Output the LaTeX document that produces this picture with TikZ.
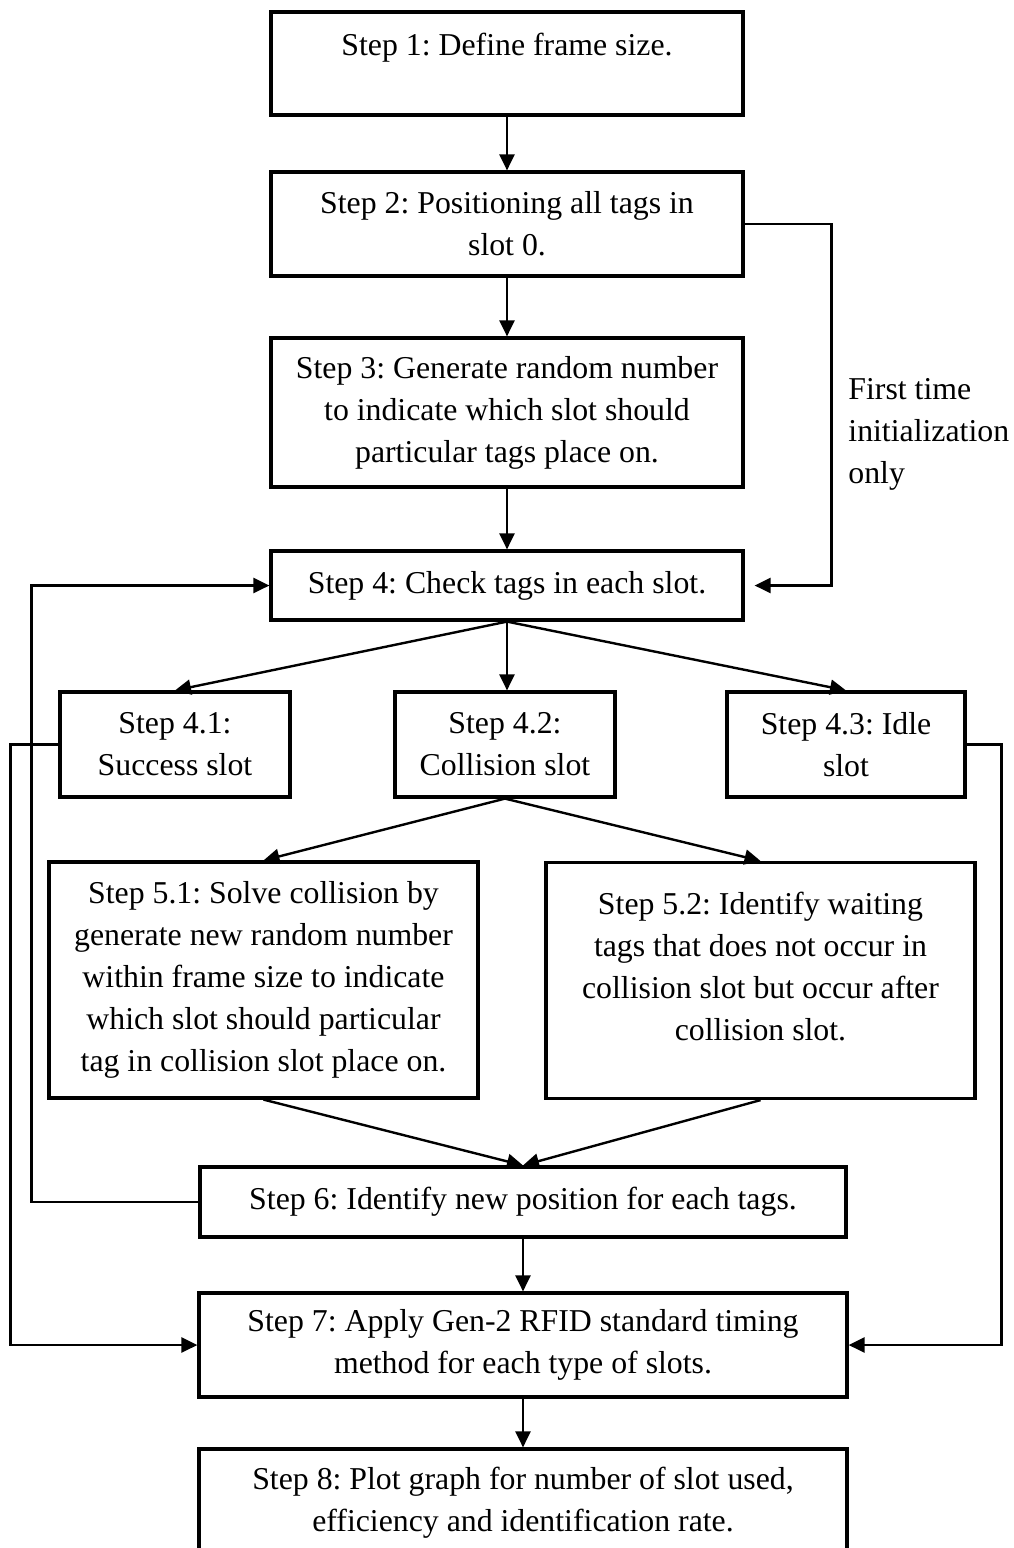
\documentclass[tikz,border=0pt]{standalone}
\usepackage{fontspec}
\setmainfont{Liberation Serif}
\usepackage{tikz}
\usetikzlibrary{arrows.meta}
\frenchspacing
\tikzset{
  paso/.style={draw,line width=1.6pt,align=center,font=\fontsize{15.9}{21}\selectfont,inner sep=2pt},
  flecha/.style={-{Triangle[length=8pt,width=7.5pt]},line width=1.2pt},
  nota/.style={align=left,font=\fontsize{15.9}{21}\selectfont,inner sep=0pt},
}
\begin{document}
\begin{tikzpicture}[x=0.5pt,y=-0.5pt]
  \useasboundingbox (0,0) rectangle (1013,1548);
  \node[paso,minimum width=236pt,minimum height=51.5pt,text depth=19pt] (p1) at (507,63.5) {Step 1: Define frame size.};
  \node[paso,minimum width=236pt,minimum height=52pt] (p2) at (507,224) {Step 2: Positioning all tags in\\slot 0.};
  \node[paso,minimum width=236pt,minimum height=74.5pt] (p3) at (507,412.5) {Step 3: Generate random number\\to indicate which slot should\\particular tags place on.};
  \node[paso,minimum width=236pt,minimum height=34.5pt] (p4) at (507,585.5) {Step 4: Check tags in each slot.};
  \node[paso,minimum width=115pt,minimum height=52.5pt] (p41) at (175,744.5) {Step 4.1:\\Success slot};
  \node[paso,minimum width=110pt,minimum height=52.5pt] (p42) at (505,744.5) {Step 4.2:\\Collision slot};
  \node[paso,minimum width=119pt,minimum height=52.5pt] (p43) at (846,744.5) {Step 4.3: Idle\\slot};
  \node[paso,minimum width=214.5pt,minimum height=118pt] (p51) at (263.5,980) {Step 5.1: Solve collision by\\generate new random number\\within frame size to indicate\\which slot should particular\\tag in collision slot place on.};
  \node[paso,minimum width=214.5pt,minimum height=118pt,text depth=14pt] (p52) at (760.5,980.5) {Step 5.2: Identify waiting\\tags that does not occur in\\collision slot but occur after\\collision slot.};
  \node[paso,minimum width=323pt,minimum height=35pt] (p6) at (523,1202) {Step 6: Identify new position for each tags.};
  \node[paso,minimum width=324pt,minimum height=52pt] (p7) at (523,1345) {Step 7: Apply Gen-2 RFID standard timing\\method for each type of slots.};
  \node[paso,minimum width=324pt,minimum height=54pt] (p8) at (523,1503) {Step 8: Plot graph for number of slot used,\\efficiency and identification rate.};
  \node[nota,anchor=west] (nota) at (848,434) {First time\\initialization\\only};
  \draw[flecha] (p1) -- (p2);
  \draw[flecha] (p2) -- (p3);
  \draw[flecha] (p3) -- (p4);
  \draw[flecha,shorten >=5pt] (p2.east) -- ++(87,0) |- (p4.east);
  \draw[flecha] (p4.south) -- (p41.north);
  \draw[flecha] (p4.south) -- (p4.south |- p42.north);
  \draw[flecha] (p4.south) -- (p43.north);
  \draw[flecha] (p42.south) -- (p51.north);
  \draw[flecha] (p42.south) -- (p52.north);
  \draw[flecha] (p51.south) -- (p6.north);
  \draw[flecha] (p52.south) -- (p6.north);
  \draw[flecha] (p6.west) -- ++(-167,0) |- (p4.west);
  \draw[flecha] (p41.west) -- ++(-48,0) |- (p7.west);
  \draw[flecha] (p43.east) -- ++(35,0) |- (p7.east);
  \draw[flecha] (p6) -- (p7);
  \draw[flecha] (p7) -- (p8);
\end{tikzpicture}
\end{document}
